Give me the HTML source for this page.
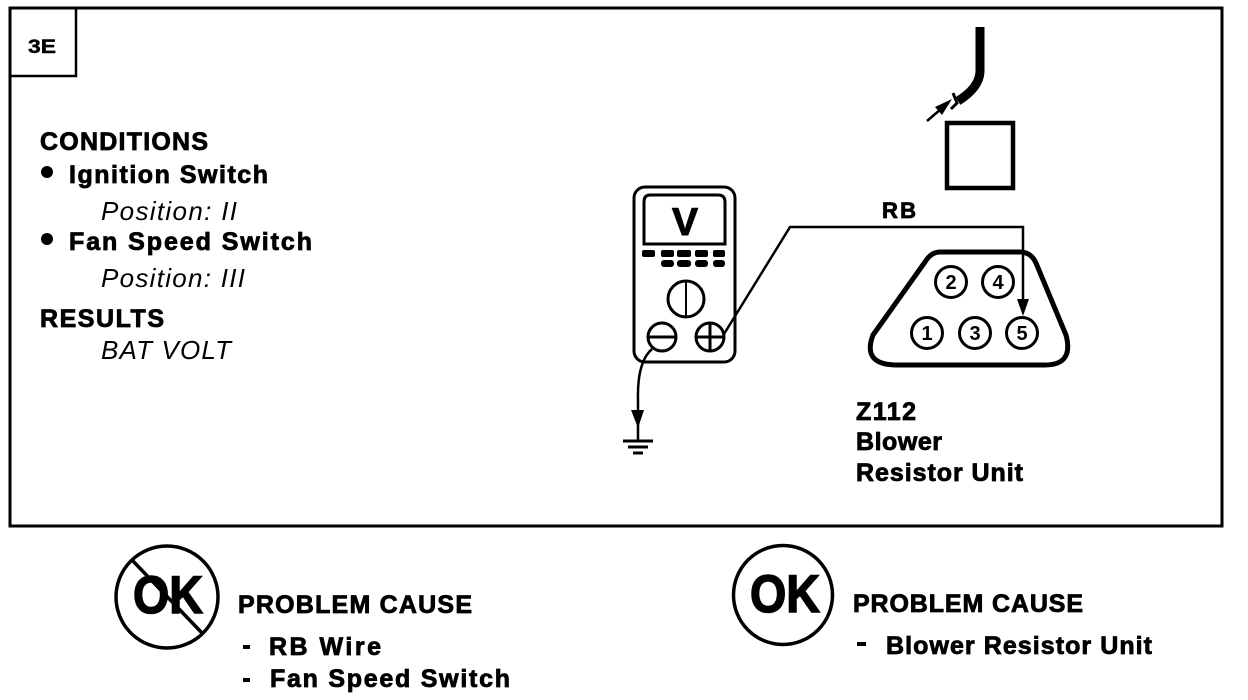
<!DOCTYPE html>
<html>
<head>
<meta charset="utf-8">
<style>
html,body{margin:0;padding:0;background:#fff;width:1248px;height:700px;overflow:hidden}
svg{display:block}
text{font-family:"Liberation Sans",sans-serif;fill:#000}
.b{font-weight:bold;font-size:25px;stroke:#000;stroke-width:.8}
.i{font-style:italic;font-size:26px}
.n{font-weight:bold;font-size:20px;text-anchor:middle}
</style>
</head>
<body>
<svg width="1248" height="700" viewBox="0 0 1248 700">
<rect width="1248" height="700" fill="#fff"/>
<g fill="none" stroke="#000">
<rect x="10" y="8" width="1212" height="518" stroke-width="3"/>
<path d="M11 76H76V9" stroke-width="2.5"/>
<!-- meter -->
<rect x="634" y="187" width="101" height="175" rx="11" stroke-width="3"/>
<path d="M650 195H718Q725 195 725 202V244H644V202Q644 195 650 195Z" stroke-width="3"/>
<circle cx="686" cy="299" r="18" stroke-width="3"/>
<path d="M686 281V317" stroke-width="2"/>
<circle cx="662" cy="337" r="14" stroke-width="3"/>
<path d="M649 337H675" stroke-width="3"/>
<circle cx="710" cy="337" r="14" stroke-width="3"/>
<path d="M696 337H724M710 323V351" stroke-width="3"/>
<!-- wires -->
<path d="M724 334L790 227H1023V303" stroke-width="2.5"/>
<path d="M652 349Q637 362 638 400V440" stroke-width="2.5"/>
<path d="M623 441H653" stroke-width="3"/>
<path d="M628 447H648" stroke-width="3"/>
<path d="M633 453H643" stroke-width="3"/>
<!-- square -->
<rect x="947" y="123" width="66" height="65" stroke-width="4.5"/>
<!-- connector -->
<path d="M940 252H1020Q1031 252 1036 263L1066 335Q1074 365 1045 365H895Q862 364 873 335L925 262Q931 252 940 252Z" stroke-width="5"/>
<circle cx="951" cy="282" r="15.5" stroke-width="3"/>
<circle cx="998" cy="282" r="15.5" stroke-width="3"/>
<circle cx="927" cy="333" r="15.5" stroke-width="3"/>
<circle cx="975" cy="333" r="15.5" stroke-width="3"/>
<circle cx="1022" cy="333" r="15.5" stroke-width="3"/>
<!-- cable -->
<path d="M980 27V72Q979 88 958 101" stroke-width="9"/>
<path d="M953 93L957 103L951 109" stroke-width="3"/>
<path d="M927 121L948 103" stroke-width="2.5"/>
<!-- OK circles -->
<circle cx="167" cy="597" r="51" stroke-width="3.5"/>
<path d="M132 560L202 633" stroke-width="3.5"/>
<circle cx="783" cy="595" r="49.5" stroke-width="3.5"/>
</g>
<g fill="#000" stroke="none">
<rect x="642" y="250" width="13" height="7" rx="2"/>
<rect x="661" y="250" width="13" height="7" rx="2"/>
<rect x="677" y="250" width="14" height="7" rx="2"/>
<rect x="695" y="250" width="13" height="7" rx="2"/>
<rect x="713" y="250" width="12" height="7" rx="2"/>
<rect x="661" y="260" width="13" height="7" rx="3"/>
<rect x="677" y="260" width="14" height="7" rx="3"/>
<rect x="695" y="260" width="13" height="7" rx="3"/>
<rect x="713" y="260" width="12" height="7" rx="3"/>
<path d="M1017 299H1029L1023 316Z"/>
<path d="M631 410H644L638 428Z"/>
<path d="M952 99L935 107L942 115Z"/>
<circle cx="47" cy="172" r="6"/>
<circle cx="47" cy="239" r="6"/>
<rect x="243" y="645" width="7" height="4"/>
<rect x="243" y="678" width="7" height="4"/>
<rect x="857" y="642" width="9" height="4"/>
</g>
<text x="28" y="53" font-weight="bold" font-size="19" textLength="28" lengthAdjust="spacingAndGlyphs" style="stroke:#000;stroke-width:.4">3E</text>
<text class="b" x="40" y="150" textLength="168" lengthAdjust="spacing">CONDITIONS</text>
<text class="b" x="69" y="183" textLength="199" lengthAdjust="spacing">Ignition Switch</text>
<text class="i" x="101" y="220" textLength="136" lengthAdjust="spacing">Position: II</text>
<text class="b" x="69" y="250" textLength="243" lengthAdjust="spacing">Fan Speed Switch</text>
<text class="i" x="101" y="287" textLength="144" lengthAdjust="spacing">Position: III</text>
<text class="b" x="40" y="327" textLength="124" lengthAdjust="spacing">RESULTS</text>
<text class="i" x="101" y="359" textLength="130" lengthAdjust="spacing">BAT VOLT</text>
<text x="685" y="235" font-weight="bold" font-size="39" text-anchor="middle" style="stroke:#000;stroke-width:1">V</text>
<text class="b" x="882" y="218" textLength="34" lengthAdjust="spacing" style="font-size:22px">RB</text>
<text class="n" x="951" y="289">2</text>
<text class="n" x="998" y="289">4</text>
<text class="n" x="927" y="340">1</text>
<text class="n" x="975" y="340">3</text>
<text class="n" x="1022" y="340">5</text>
<text class="b" x="856" y="420" textLength="60" lengthAdjust="spacing">Z112</text>
<text class="b" x="856" y="450" textLength="86" lengthAdjust="spacing">Blower</text>
<text class="b" x="856" y="481" textLength="167" lengthAdjust="spacing">Resistor Unit</text>
<text x="133" y="613" font-weight="bold" font-size="53" textLength="70" lengthAdjust="spacingAndGlyphs" style="stroke:#000;stroke-width:1.5">OK</text>
<text class="b" x="238" y="613" textLength="234" lengthAdjust="spacing">PROBLEM CAUSE</text>
<text class="b" x="269" y="655" textLength="112" lengthAdjust="spacing">RB  Wire</text>
<text class="b" x="270" y="687" textLength="240" lengthAdjust="spacing">Fan Speed Switch</text>
<text x="750" y="612" font-weight="bold" font-size="53" textLength="70" lengthAdjust="spacingAndGlyphs" style="stroke:#000;stroke-width:1.5">OK</text>
<text class="b" x="853" y="612" textLength="230" lengthAdjust="spacing">PROBLEM CAUSE</text>
<text class="b" x="886" y="654" textLength="266" lengthAdjust="spacing">Blower Resistor Unit</text>
</svg>
</body>
</html>
